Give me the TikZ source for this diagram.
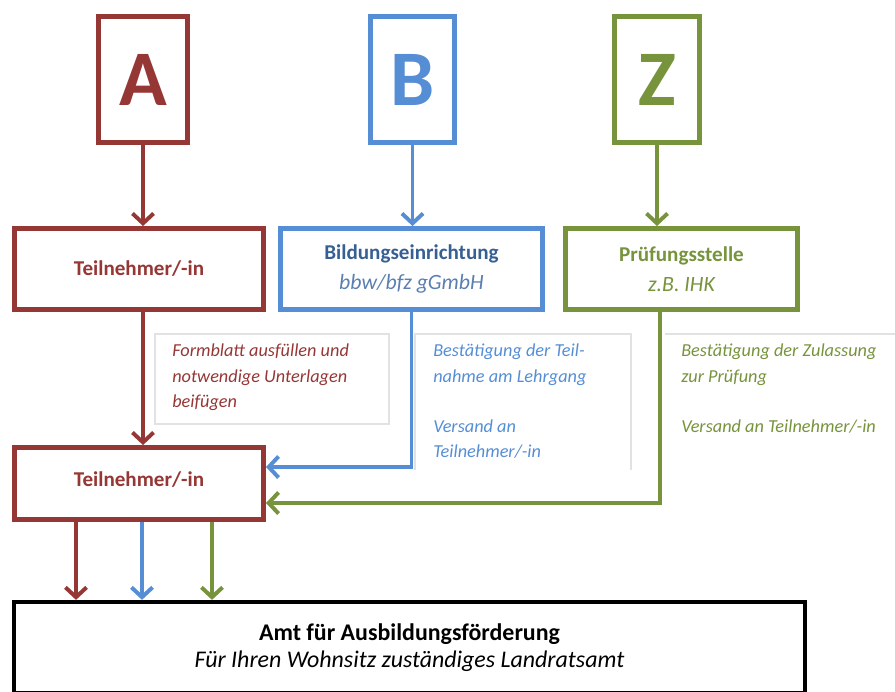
\documentclass[tikz,border=0pt]{standalone}
\usepackage{fontspec}
\setmainfont{Carlito}
\usetikzlibrary{arrows.meta}
\definecolor{rot}{HTML}{953735}
\definecolor{blau}{HTML}{558ED5}
\definecolor{gruen}{HTML}{77933C}
\definecolor{dunkelblau}{HTML}{376092}
\definecolor{hellblau}{HTML}{5B7FB0}
\definecolor{notizgrau}{HTML}{E2E2E2}
\begin{document}
\begin{tikzpicture}[x=0.025cm, y=-0.025cm,
  kasten/.style={draw=#1, text=#1, line width=3.5pt, rectangle, inner sep=0pt},
  buchstabe/.style={kasten=#1, minimum height=3.15cm, font=\fontsize{56}{60}\selectfont\bfseries},
  stufe/.style={kasten=#1, minimum height=2.025cm, font=\fontsize{15}{18}\selectfont},
  pfeil/.style={draw=#1, line width=2.8pt, -{Straight Barb[length=7pt, width=15pt, line width=2.8pt]}},
  notiz/.style={draw=notizgrau, line width=0.8pt},
  notiztext/.style={text=#1, anchor=north west, inner sep=0pt, align=left, font=\fontsize{13}{17.8}\selectfont\itshape}]
\useasboundingbox (0,0) rectangle (895,691);
% obere Reihe
\node[buchstabe=rot, minimum width=2.225cm] (A) at (143,79.5){A};
\node[buchstabe=blau, minimum width=2.1cm] (B) at (412.5,79.5){B};
\node[buchstabe=gruen, minimum width=2.125cm] (Z) at (657,79.5){Z};
% zweite Reihe
\node[stufe=rot, minimum width=6.225cm] (tn1) at (139,269){\bfseries Teilnehmer/-in};
\node[stufe=blau, minimum width=6.55cm, align=center] (bild) at (411.5,269)
  {\textcolor{dunkelblau}{\bfseries Bildungseinrichtung}\\[3pt]\textcolor{hellblau}{\fontsize{15.5}{18}\selectfont\itshape bbw/bfz gGmbH}};
\node[stufe=gruen, minimum width=5.8cm, align=center] (pruef) at (681.5,269)
  {\bfseries Prüfungsstelle\\[3pt]{\fontsize{15.5}{18}\selectfont\itshape z.B. IHK}};
\draw[pfeil=rot](A) -- (A |- tn1.north);
\draw[pfeil=blau](B) -- (B |- bild.north);
\draw[pfeil=gruen](Z) -- (Z |- pruef.north);
% Notizen
\draw[notiz] (155,334) rectangle (389,424);
\draw[notiz] (415,470) |- (631,334) -- (631,470);
\draw[notiz] (665,334) -- (895,334);
\node[notiztext=rot] (n1) at (172,344){Formblatt ausfüllen und\\notwendige Unterlagen\\beifügen};
\node[notiztext=blau] (n2) at (433,344){Bestätigung der Teil-\\nahme am Lehrgang\\[17.8pt]Versand an\\Teilnehmer/-in};
\node[notiztext=gruen] (n3) at (681,344){Bestätigung der Zulassung\\zur Prüfung\\[17.8pt]Versand an Teilnehmer/-in};
% dritte Reihe
\node[stufe=rot, minimum width=6.225cm, minimum height=1.8cm] (tn2) at (139,483.5){\raisebox{6pt}{\bfseries Teilnehmer/-in}};
\coordinate (inB) at (266,467);
\coordinate (inZ) at (266,503);
\coordinate (xz) at (660,0);
\draw[pfeil=rot](tn1.south -| A) -- (tn2.north -| A);
\draw[pfeil=blau](bild.south) |- (inB);
\draw[pfeil=gruen](pruef.south -| xz) |- (inZ);
% Amt
\node[kasten=black, line width=3pt, minimum width=19.775cm, minimum height=2.275cm, align=center] (amt) at (409.5,647.5)
  {\fontsize{17}{20}\selectfont\bfseries Amt für Ausbildungsförderung\\[4pt]
   \fontsize{17}{20}\selectfont\itshape Für Ihren Wohnsitz zuständiges Landratsamt};
\coordinate (sR) at (76,0);
\coordinate (sB) at (142,0);
\coordinate (sZ) at (212,0);
\draw[pfeil=rot](tn2.south -| sR) -- (amt.north -| sR);
\draw[pfeil=blau](tn2.south -| sB) -- (amt.north -| sB);
\draw[pfeil=gruen](tn2.south -| sZ) -- (amt.north -| sZ);

\end{tikzpicture}
\end{document}
